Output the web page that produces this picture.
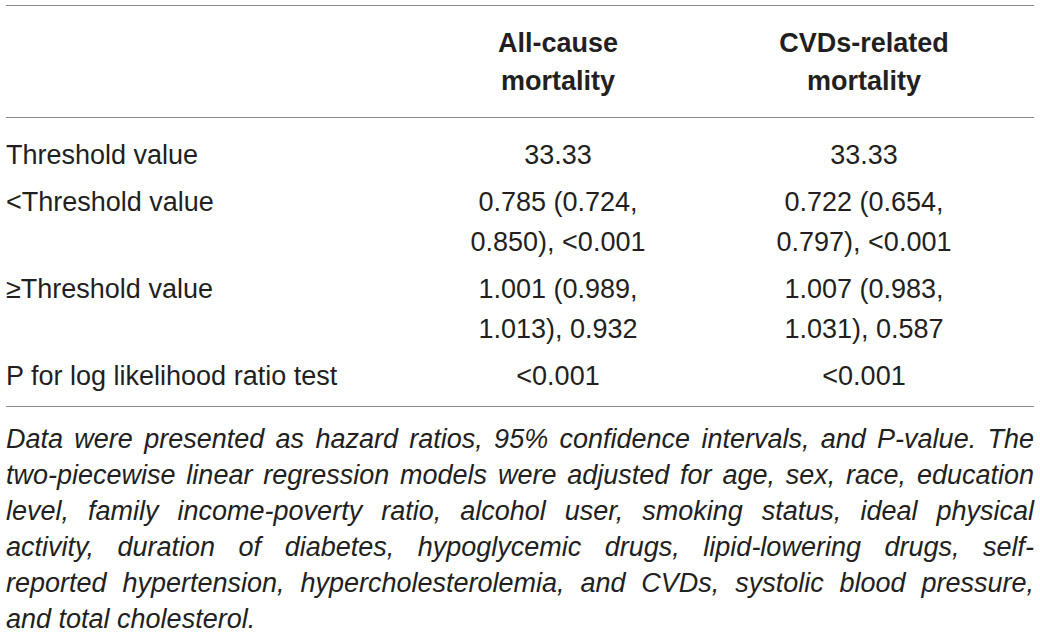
<!DOCTYPE html>
<html>
<head>
<meta charset="utf-8">
<script src="https://cdn.jsdelivr.net/npm/chart.js@4.4.1/dist/chart.umd.min.js"></script>
<style>
  html, body { margin: 0; padding: 0; background: #fff; }
  body { width: 1040px; height: 639px; overflow: hidden; font-family: "Liberation Sans", Arial, sans-serif; color: #231f20; }
  #wrap { position: absolute; left: 6px; top: 5px; width: 1028px; }
  table { width: 100%; border-collapse: collapse; table-layout: fixed; font-size: 27px; }
  thead th { font-weight: bold; line-height: 38px; height: 111px; padding: 0; vertical-align: middle; text-align: center; }
  thead tr { border-top: 1.5px solid #8a8a8a; border-bottom: 1.5px solid #8a8a8a; }
  tbody td { line-height: 40px; padding: 3.5px 0; vertical-align: top; }
  tbody tr:first-child td { padding-top: 17px; }
  tbody tr:last-child td { padding-bottom: 10px; }
  tbody tr:last-child { border-bottom: 1.5px solid #8a8a8a; }
  td.lab { text-align: left; }
  td.val { text-align: center; padding-left: 48px; padding-right: 48px; }
  #note { font-family: "Liberation Sans Narrow", "Liberation Sans", sans-serif; font-style: italic; font-size: 27px; line-height: 36px; margin-top: 14px; }
  #note div { text-align: justify; text-align-last: justify; white-space: nowrap; overflow: visible; }
  #note div.last { text-align-last: left; }
</style>
</head>
<body>
<div id="wrap">
  <table id="tbl">
    <colgroup><col style="width:399px"><col style="width:306px"><col style="width:306px"><col></colgroup>
    <thead></thead>
    <tbody></tbody>
  </table>
  <div id="note"></div>
</div>
<script>
// column headers
var columns = [["All-cause", "mortality"], ["CVDs-related", "mortality"]];
// row labels
var rowLabels = ["Threshold value", "<Threshold value", "\u2265Threshold value", "P for log likelihood ratio test"];
// values per outcome
var allCause = ["33.33", "0.785 (0.724, 0.850), <0.001", "1.001 (0.989, 1.013), 0.932", "<0.001"];
var cvdRelated = ["33.33", "0.722 (0.654, 0.797), <0.001", "1.007 (0.983, 1.031), 0.587", "<0.001"];
// footnote, one entry per printed line
var noteLines = [
  "Data were presented as hazard ratios, 95% confidence intervals, and P-value. The",
  "two-piecewise linear regression models were adjusted for age, sex, race, education",
  "level, family income-poverty ratio, alcohol user, smoking status, ideal physical",
  "activity, duration of diabetes, hypoglycemic drugs, lipid-lowering drugs, self-",
  "reported hypertension, hypercholesterolemia, and CVDs, systolic blood pressure,",
  "and total cholesterol."
];

function esc(s) {
  return s.replace(/&/g, "&amp;").replace(/</g, "&lt;").replace(/>/g, "&gt;");
}

var thead = document.querySelector("#tbl thead");
var hr = document.createElement("tr");
hr.innerHTML = "<th></th>" + columns.map(function(c) {
  return "<th>" + c.map(esc).join("<br>") + "</th>";
}).join("") + "<th></th>";
thead.appendChild(hr);

var tbody = document.querySelector("#tbl tbody");
rowLabels.forEach(function(lab, i) {
  var tr = document.createElement("tr");
  tr.innerHTML = '<td class="lab">' + esc(lab) + '</td>' +
    '<td class="val">' + esc(allCause[i]) + '</td>' +
    '<td class="val">' + esc(cvdRelated[i]) + '</td><td></td>';
  tbody.appendChild(tr);
});

var note = document.getElementById("note");
noteLines.forEach(function(line, i) {
  var d = document.createElement("div");
  if (i === noteLines.length - 1) d.className = "last";
  d.textContent = line;
  note.appendChild(d);
});
</script>
</body>
</html>
